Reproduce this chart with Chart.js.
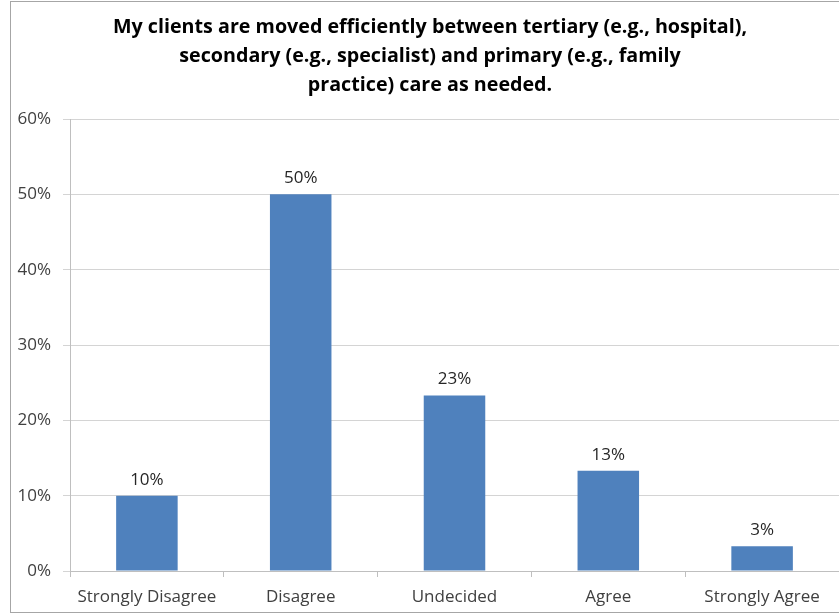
<!DOCTYPE html>
<html>
<head>
<meta charset="utf-8">
<script src="https://cdn.jsdelivr.net/npm/chart.js@4.4.0/dist/chart.umd.min.js"></script>
<style>
  html, body { margin: 0; padding: 0; background: #fff; }
  #wrap { position: relative; width: 839px; height: 615px; overflow: hidden; }
  #frame { position: absolute; left: 10px; top: 1px; width: 900px; height: 612px;
           border: 1px solid #a6a6a6; box-sizing: border-box; pointer-events: none; }
</style>
</head>
<body>
<div id="wrap">
  <canvas id="chart"></canvas>
  <div id="frame"></div>
</div>
<script>
const categories = ["Strongly Disagree", "Disagree", "Undecided", "Agree", "Strongly Agree"];
const percentages = [10, 50, 23.3, 13.3, 3.3];
const titleLines = [
  "My clients are moved efficiently between tertiary (e.g., hospital),",
  "secondary (e.g., specialist) and primary (e.g., family",
  "practice) care as needed.",
];
const yMax = 60;
const yStep = 10;

const fontFamily = "'Open Sans', Lato, sans-serif";

// title is centred on the outer frame (not the canvas), so draw it by hand
const frameTitle = {
  id: "frameTitle",
  afterDraw(chart) {
    const ctx = chart.ctx;
    ctx.save();
    ctx.font = "bold 19.7px " + fontFamily;
    ctx.fillStyle = "#000";
    ctx.textAlign = "center";
    ctx.textBaseline = "middle";
    titleLines.forEach((line, i) => {
      ctx.fillText(line, 430, 27.5 + i * 29);
    });
    ctx.restore();
  },
};

// percent labels over each bar
const barLabels = {
  id: "barLabels",
  afterDatasetsDraw(chart) {
    const ctx = chart.ctx;
    const meta = chart.getDatasetMeta(0);
    ctx.save();
    ctx.font = "17px " + fontFamily;
    ctx.fillStyle = "#262626";
    ctx.textAlign = "center";
    ctx.textBaseline = "middle";
    meta.data.forEach((bar, i) => {
      ctx.fillText(Math.round(percentages[i]) + "%", bar.x, bar.y - 16);
    });
    ctx.restore();
  },
};

new Chart(document.getElementById("chart"), {
  type: "bar",
  data: {
    labels: categories,
    datasets: [
      {
        data: percentages,
        backgroundColor: "#4f81bd",
        borderWidth: 0,
        categoryPercentage: 1,
        barPercentage: 0.4,
      },
    ],
  },
  options: {
    responsive: true,
    maintainAspectRatio: false,
    animation: false,
    layout: { padding: { left: 0, right: 0, top: 119, bottom: 0 } },
    plugins: {
      legend: { display: false },
      tooltip: { enabled: false },
      title: { display: false },
    },
    scales: {
      x: {
        afterFit: (scale) => { scale.height = 44; },
        grid: { drawOnChartArea: false, tickLength: 6, color: "#bfbfbf" },
        border: { color: "#bfbfbf" },
        ticks: {
          color: "#404040",
          font: { family: fontFamily, size: 17 },
          padding: 10,
          maxRotation: 0,
          autoSkip: false,
        },
      },
      y: {
        min: 0,
        max: yMax,
        afterFit: (scale) => { scale.width = 70; },
        grid: { color: "#d4d4d4", tickLength: 7 },
        border: { color: "#bfbfbf" },
        ticks: {
          stepSize: yStep,
          color: "#404040",
          font: { family: fontFamily, size: 17 },
          padding: 12,
          callback: (v) => v + "%",
        },
      },
    },
  },
  plugins: [barLabels, frameTitle],
});
</script>
</body>
</html>
